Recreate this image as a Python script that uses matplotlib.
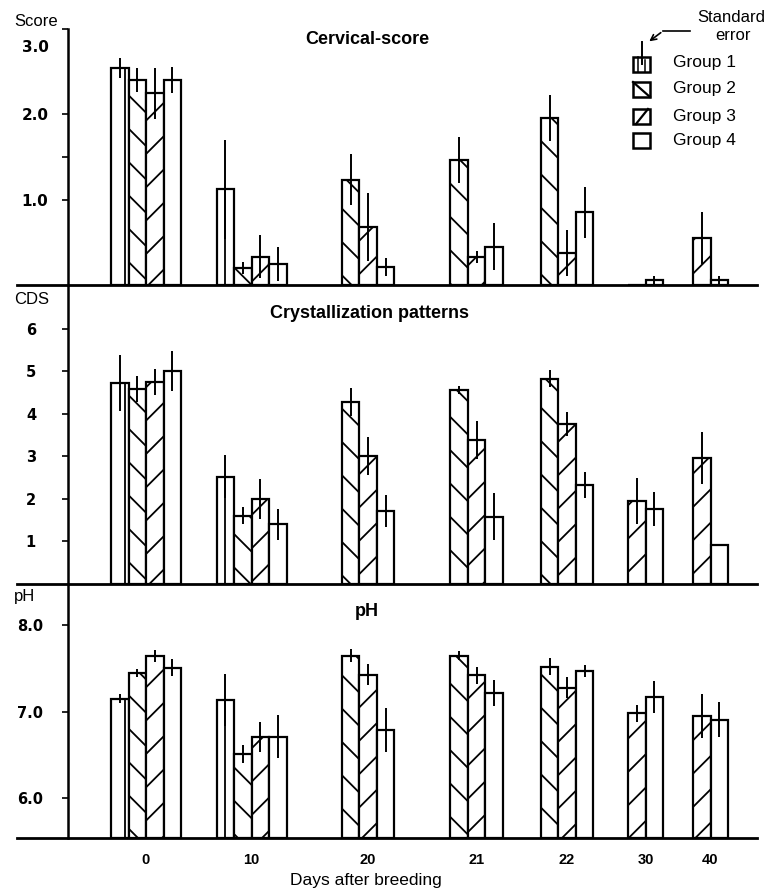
import numpy as np
import matplotlib
matplotlib.use('Agg')
import matplotlib.pyplot as plt
import matplotlib.transforms as mtransforms
from matplotlib.lines import Line2D
from matplotlib.patches import Rectangle, FancyArrowPatch

plt.rcParams['font.family'] = ['Liberation Sans', 'DejaVu Sans']
plt.rcParams['hatch.linewidth'] = 1.3
plt.rcParams['hatch.color'] = 'black'

nan = np.nan

# ---------------- data ----------------
days = ['0', '10', '20', '21', '22', '30', '40']
groups = ['Group 1', 'Group 2', 'Group 3', 'Group 4']

# Cervical score
score_g1 = [2.54, 1.12, nan, nan, nan, nan, nan]
score_g2 = [2.40, 0.20, 1.23, 1.46, 1.95, nan, nan]
score_g3 = [2.24, 0.33, 0.68, 0.33, 0.37, 0.00, 0.55]
score_g4 = [2.40, 0.25, 0.21, 0.45, 0.85, 0.06, 0.06]
score_se_g1 = [0.12, 0.58, nan, nan, nan, nan, nan]
score_se_g2 = [0.14, 0.07, 0.30, 0.27, 0.27, nan, nan]
score_se_g3 = [0.30, 0.25, 0.40, 0.07, 0.27, nan, 0.30]
score_se_g4 = [0.15, 0.20, 0.10, 0.28, 0.30, 0.05, 0.05]

# Crystallization patterns (CDS)
cds_g1 = [4.72, 2.52, nan, nan, nan, nan, nan]
cds_g2 = [4.58, 1.60, 4.28, 4.56, 4.82, nan, nan]
cds_g3 = [4.75, 2.00, 3.00, 3.38, 3.76, 1.95, 2.96]
cds_g4 = [5.00, 1.40, 1.72, 1.58, 2.33, 1.76, 0.92]
cds_se_g1 = [0.65, 0.50, nan, nan, nan, nan, nan]
cds_se_g2 = [0.30, 0.20, 0.33, 0.10, 0.20, nan, nan]
cds_se_g3 = [0.30, 0.47, 0.45, 0.45, 0.28, 0.55, 0.60]
cds_se_g4 = [0.47, 0.37, 0.38, 0.55, 0.30, 0.40, nan]

# pH
ph_g1 = [7.15, 7.14, nan, nan, nan, nan, nan]
ph_g2 = [7.45, 6.51, 7.65, 7.65, 7.52, nan, nan]
ph_g3 = [7.64, 6.71, 7.43, 7.42, 7.28, 6.98, 6.95]
ph_g4 = [7.51, 6.71, 6.79, 7.22, 7.47, 7.17, 6.91]
ph_se_g1 = [0.05, 0.30, nan, nan, nan, nan, nan]
ph_se_g2 = [0.05, 0.10, 0.08, 0.05, 0.10, nan, nan]
ph_se_g3 = [0.07, 0.17, 0.12, 0.10, 0.12, 0.10, 0.25]
ph_se_g4 = [0.10, 0.25, 0.25, 0.15, 0.07, 0.18, 0.20]

# ---------------- layout ----------------
W, H = 770, 890
fig = plt.figure(figsize=(W / 100, H / 100), dpi=100)

def fx(x):
    return x / W

def fy(y):
    return 1 - y / H

X0, X1 = 17, 757           # horizontal extent of each panel (px units)
YAX = 68                   # position of the vertical axis
cluster_x = [146, 251.5, 368, 476.5, 567, 645.5, 710.5]
bar_w = 17.5
hatches = ['|', '\\', '/', '']

present = [~np.isnan(np.array(a)) for a in (cds_g1, cds_g2, cds_g3, cds_g4)]

def positions():
    pos = [np.full(len(days), nan) for _ in groups]
    for d in range(len(days)):
        gs = [g for g in range(len(groups)) if present[g][d]]
        n = len(gs)
        for i, g in enumerate(gs):
            pos[g][d] = cluster_x[d] + (i - (n - 1) / 2) * bar_w
    return pos

POS = positions()

def make_ax(ytop, ybot, ylim):
    ax = fig.add_axes([fx(X0), fy(ybot), (X1 - X0) / W, (ybot - ytop) / H])
    ax.set_xlim(X0, X1)
    ax.set_ylim(*ylim)
    ax.patch.set_alpha(0)
    for s in ('top', 'right'):
        ax.spines[s].set_visible(False)
    ax.spines['left'].set_position(('data', YAX))
    ax.spines['left'].set_linewidth(1.8)
    ax.spines['bottom'].set_linewidth(2.0)
    ax.set_xticks([])
    return ax

def draw(ax, vals, ses, base):
    for g in range(len(groups)):
        v = np.array(vals[g], dtype=float)
        e = np.array(ses[g], dtype=float)
        x = POS[g]
        m = ~np.isnan(v)
        ax.bar(x[m], v[m] - base, bottom=base, width=bar_w, facecolor='white',
               edgecolor='black', linewidth=1.6, hatch=hatches[g], zorder=2)
        me = m & ~np.isnan(e)
        ax.errorbar(x[me], v[me], yerr=e[me], fmt='none', ecolor='black',
                    elinewidth=1.4, capsize=0, zorder=4)

def yticks(ax, vals, labels, pad, size):
    ax.tick_params(axis='y', which='both', direction='out', length=4, width=1.2,
                   pad=pad, labelsize=size)
    ax.set_yticks(vals)
    ax.set_yticklabels(labels, fontsize=size, fontweight='bold',
                       family=['DejaVu Sans'])

# Panel 1: cervical score
ax1 = make_ax(28.5, 285, (0, 3.0))
draw(ax1, [score_g1, score_g2, score_g3, score_g4],
     [score_se_g1, score_se_g2, score_se_g3, score_se_g4], 0)
yticks(ax1, [1.0, 2.0, 3.0], ['1.0', '2.0', '3.0'], 10, 11)
ax1.set_yticks([1.5], minor=True)
# the "3.0" label sits a little lower in the original print
lbl = ax1.get_yticklabels()[-1]
lbl.set_transform(lbl.get_transform() +
                  mtransforms.ScaledTranslation(0, -18 / 100, fig.dpi_scale_trans))

# Panel 2: CDS
ax2 = make_ax(286, 584, (0, 7.0))
draw(ax2, [cds_g1, cds_g2, cds_g3, cds_g4],
     [cds_se_g1, cds_se_g2, cds_se_g3, cds_se_g4], 0)
yticks(ax2, [1, 2, 3, 4, 5, 6], ['1', '2', '3', '4', '5', '6'], 19, 10.5)

# Panel 3: pH
PH_BASE = 5.54
ax3 = make_ax(585.5, 838, (PH_BASE, 8.46))
draw(ax3, [ph_g1, ph_g2, ph_g3, ph_g4],
     [ph_se_g1, ph_se_g2, ph_se_g3, ph_se_g4], PH_BASE)
yticks(ax3, [6.0, 7.0, 8.0], ['6.0', '7.0', '8.0'], 14, 10.5)
ax3.tick_params(axis='x', length=0, pad=11, labelsize=10.5)
ax3.set_xticks(cluster_x)
ax3.set_xticklabels(days, fontsize=10.5, fontweight='bold')

# Titles and axis labels
title_kw = dict(fontsize=13, fontweight='bold', ha='center', va='center')
fig.text(fx(367), fy(40), 'Cervical-score', **title_kw)
fig.text(fx(370), fy(313), 'Crystallization patterns', **title_kw)
fig.text(fx(367), fy(612), 'pH', **title_kw)

lab_kw = dict(fontsize=12, ha='center', va='center')
fig.text(fx(36), fy(21), 'Score', **lab_kw)
fig.text(fx(32), fy(299), 'CDS', **lab_kw)
fig.text(fx(25), fy(597), 'pH', **lab_kw)
fig.text(fx(366), fy(880), 'Days after breeding', fontsize=12.5, ha='center', va='center')

# Legend (drawn manually)
icon_x, icon_w, icon_h = 633, 17, 15
icon_tops = [57, 82, 109, 133]
label_y = [63, 89, 116, 141]

def fline(xs, ys, lw=1.4):
    fig.add_artist(Line2D([fx(v) for v in xs], [fy(v) for v in ys],
                          transform=fig.transFigure, color='black', lw=lw))

for g in range(len(groups)):
    t = icon_tops[g]
    r = Rectangle((fx(icon_x), fy(t + icon_h)), icon_w / W, icon_h / H,
                  transform=fig.transFigure, facecolor='white', edgecolor='black',
                  linewidth=1.8)
    fig.add_artist(r)
    if g == 0:
        fline([icon_x + 5, icon_x + 5], [t, t + icon_h], 1.1)
        fline([icon_x + 12, icon_x + 12], [t + 3, t + icon_h], 1.1)
    elif g == 1:
        fline([icon_x, icon_x + icon_w], [t, t + icon_h], 1.6)
    elif g == 2:
        fline([icon_x + 3, icon_x + icon_w - 2], [t + icon_h, t], 1.6)
    fig.text(fx(673), fy(label_y[g]), groups[g], fontsize=12.5, ha='left', va='center')
fline([642, 642], [42, 64], 1.4)
fig.text(fx(731), fy(18), 'Standard', fontsize=12, ha='center', va='center')
fig.text(fx(733), fy(36), 'error', fontsize=12, ha='center', va='center')
fline([690, 663], [31, 31], 1.2)
fig.add_artist(FancyArrowPatch((fx(663), fy(31)), (fx(647), fy(43)),
                               transform=fig.transFigure, arrowstyle='->',
                               mutation_scale=10, lw=1.2, color='black'))

fig.savefig('out.png', dpi=100)
